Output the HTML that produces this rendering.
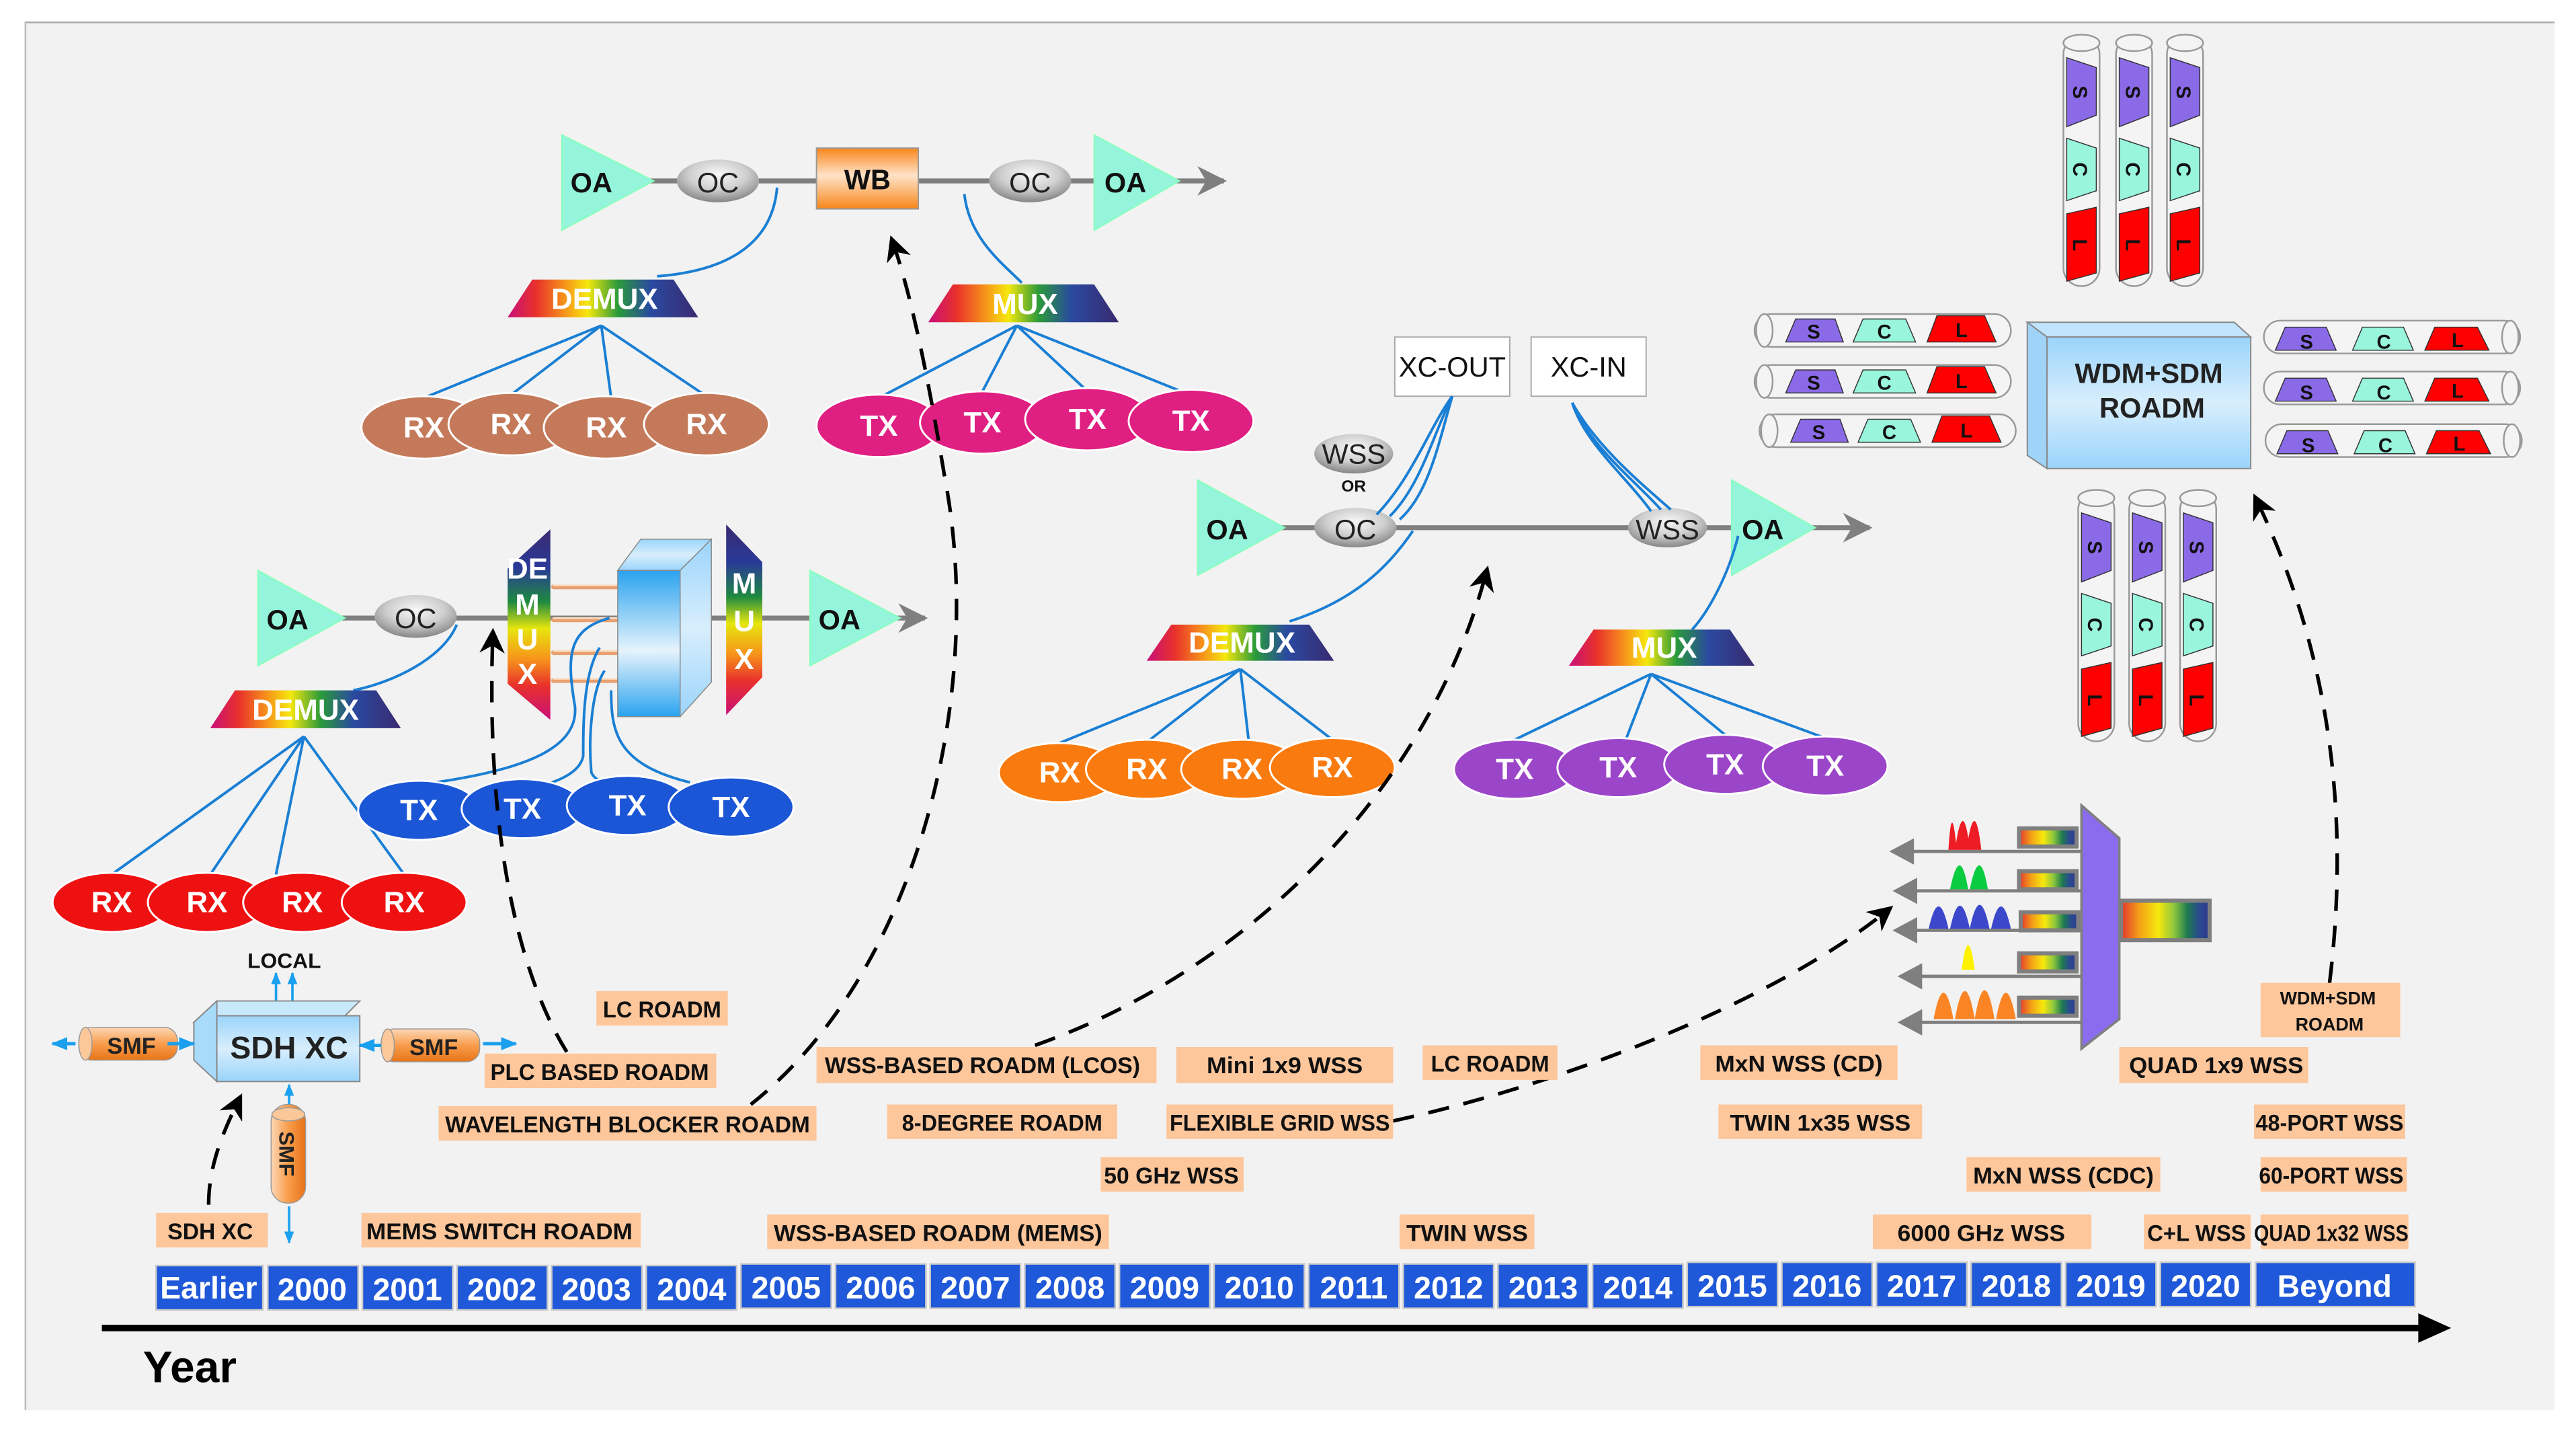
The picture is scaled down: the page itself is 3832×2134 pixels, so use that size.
<!DOCTYPE html>
<html><head><meta charset="utf-8"><style>
html,body{margin:0;padding:0;background:#fff;}
svg{display:block;}
text{font-family:"Liberation Sans Narrow","Liberation Sans",sans-serif;}
.lb{fill:#fdc69b;}
.lt{font-size:14px;font-weight:bold;fill:#111;text-anchor:middle;}
.yr{fill:#1f58d8;stroke:#c8c8c8;stroke-width:1;}
.yt{font-size:19px;font-weight:bold;fill:#fff;text-anchor:middle;}
.bl{stroke:#1a7fd4;stroke-width:1.6;fill:none;}
.dash{stroke:#000;stroke-width:2.2;fill:none;stroke-dasharray:13 9;}
.et{font-size:18px;font-weight:bold;fill:#fff;text-anchor:middle;}
.oa{fill:#95f5dc;stroke:#8fb;stroke-width:0.8;}
.oat{font-size:17px;font-weight:bold;fill:#111;text-anchor:middle;font-family:"Liberation Sans",sans-serif;}
.oct{font-size:17px;fill:#222;text-anchor:middle;}
.tube{fill:#f4f4f4;stroke:#999;stroke-width:1;}
.bt{font-size:12px;font-weight:bold;fill:#111;text-anchor:middle;font-family:"Liberation Sans",sans-serif;}
</style></head><body>
<svg width="3832" height="2134" viewBox="0 0 1568 873" xmlns="http://www.w3.org/2000/svg">
<defs>
<linearGradient id="rh" x1="0" x2="1" y1="0" y2="0">
<stop offset="0" stop-color="#c8107a"/><stop offset=".15" stop-color="#e8312b"/><stop offset=".3" stop-color="#f7941b"/><stop offset=".42" stop-color="#f5e80d"/><stop offset=".58" stop-color="#2a9a3a"/><stop offset=".75" stop-color="#2a4aa0"/><stop offset="1" stop-color="#3a2a70"/></linearGradient>
<linearGradient id="rv" x1="0" x2="0" y1="0" y2="1">
<stop offset="0" stop-color="#3a2a70"/><stop offset=".2" stop-color="#2a3a98"/><stop offset=".38" stop-color="#1e8a40"/><stop offset=".52" stop-color="#e6e60d"/><stop offset=".68" stop-color="#f7941b"/><stop offset=".82" stop-color="#e8312b"/><stop offset="1" stop-color="#c8107a"/></linearGradient>
<linearGradient id="rb" x1="0" x2="1" y1="0" y2="0">
<stop offset="0" stop-color="#e3342e"/><stop offset=".2" stop-color="#f39c18"/><stop offset=".42" stop-color="#f7e80d"/><stop offset=".6" stop-color="#8cc63e"/><stop offset=".75" stop-color="#1e7a50"/><stop offset=".88" stop-color="#2a4a90"/><stop offset="1" stop-color="#2e3a8c"/></linearGradient>
<radialGradient id="ge" cx=".5" cy=".35" r=".7"><stop offset="0" stop-color="#f8f8f8"/><stop offset=".5" stop-color="#cfcfcf"/><stop offset="1" stop-color="#7a7a7a"/></radialGradient>
<linearGradient id="wb" x1="0" x2="0" y1="0" y2="1"><stop offset="0" stop-color="#f7861a"/><stop offset=".45" stop-color="#ffe3c8"/><stop offset="1" stop-color="#f7861a"/></linearGradient>
<linearGradient id="cy" x1="0" x2="0" y1="0" y2="1"><stop offset="0" stop-color="#2aa3ef"/><stop offset=".55" stop-color="#e6f3fc"/><stop offset="1" stop-color="#2aa3ef"/></linearGradient>
<linearGradient id="cy2" x1="0" x2="0" y1="0" y2="1"><stop offset="0" stop-color="#9ad4fb"/><stop offset=".5" stop-color="#d8eefc"/><stop offset="1" stop-color="#9ad4fb"/></linearGradient>
<linearGradient id="sm" x1="0" x2="0" y1="0" y2="1"><stop offset="0" stop-color="#fcd7b5"/><stop offset=".5" stop-color="#f99d4c"/><stop offset="1" stop-color="#e77418"/></linearGradient>
<linearGradient id="smv" x1="0" x2="1" y1="0" y2="0"><stop offset="0" stop-color="#fcd7b5"/><stop offset=".5" stop-color="#f99d4c"/><stop offset="1" stop-color="#e77418"/></linearGradient>
<marker id="ah" viewBox="0 0 10 10" refX="8" refY="5" markerWidth="7" markerHeight="7" orient="auto-start-reverse"><path d="M0,0 L10,5 L0,10 L3,5 z" fill="#000"/></marker>
<marker id="ga" viewBox="0 0 10 10" refX="9" refY="5" markerWidth="6" markerHeight="6" orient="auto"><path d="M0,0 L10,5 L0,10 L3,5 z" fill="#7f7f7f"/></marker>
<marker id="ba" viewBox="0 0 10 10" refX="9" refY="5" markerWidth="5" markerHeight="5" orient="auto"><path d="M0,1 L10,5 L0,9 z" fill="#1aa0ef"/></marker>
</defs>

<rect x="0" y="0" width="1568" height="873" fill="#fff"/>
<rect x="15" y="13" width="1540" height="845" fill="#f2f2f2"/>
<line x1="15" y1="13.5" x2="1555" y2="13.5" stroke="#aaa" stroke-width="1"/>
<line x1="15.5" y1="13" x2="15.5" y2="858" stroke="#bbb" stroke-width="1"/>

<!-- ===== Diagram 1: WB ===== -->
<line x1="380" y1="110" x2="745" y2="110" stroke="#7f7f7f" stroke-width="3" marker-end="url(#ga)"/>
<polygon class="oa" points="342,82 398,110 342,140"/><text class="oat" x="360" y="117">OA</text>
<ellipse cx="437" cy="110" rx="25" ry="13" fill="url(#ge)"/><text class="oct" x="437" y="117">OC</text>
<rect x="497" y="90" width="62" height="37" fill="url(#wb)" stroke="#999" stroke-width=".8"/><text class="oat" x="528" y="115">WB</text>
<ellipse cx="627" cy="110" rx="25" ry="13" fill="url(#ge)"/><text class="oct" x="627" y="117">OC</text>
<polygon class="oa" points="666,82 718,110 666,140"/><text class="oat" x="685" y="117">OA</text>
<path class="bl" d="M473,114 C470,150 440,165 400,168"/>
<path class="bl" d="M587,118 C590,145 610,160 622,172"/>
<polygon points="324,170 410,170 425,193 309,193" fill="url(#rh)"/><text class="et" x="368" y="188" font-size="16">DEMUX</text>
<polygon points="580,173 666,173 681,196 565,196" fill="url(#rh)"/><text class="et" x="624" y="191" font-size="16">MUX</text>
<path class="bl" d="M366,198 L258,242 M366,198 L310,241 M366,198 L372,242 M366,198 L430,241"/>
<path class="bl" d="M619,198 L535,242 M619,198 L597,240 M619,198 L662,238 M619,198 L724,240"/>
<g stroke="#fff" stroke-width="1.2" fill="#c47a5a">
<ellipse cx="258" cy="260" rx="38" ry="19"/><ellipse cx="311" cy="258" rx="38" ry="19"/><ellipse cx="369" cy="260" rx="38" ry="19"/><ellipse cx="430" cy="258" rx="38" ry="19"/></g>
<text class="et" x="258" y="266">RX</text><text class="et" x="311" y="264">RX</text><text class="et" x="369" y="266">RX</text><text class="et" x="430" y="264">RX</text>
<g stroke="#fff" stroke-width="1.2" fill="#e01f82">
<ellipse cx="535" cy="259" rx="38" ry="19"/><ellipse cx="598" cy="257" rx="38" ry="19"/><ellipse cx="662" cy="255" rx="38" ry="19"/><ellipse cx="725" cy="256" rx="38" ry="19"/></g>
<text class="et" x="535" y="265">TX</text><text class="et" x="598" y="263">TX</text><text class="et" x="662" y="261">TX</text><text class="et" x="725" y="262">TX</text>

<!-- ===== Diagram 2: PLC ===== -->
<line x1="200" y1="376" x2="563" y2="376" stroke="#7f7f7f" stroke-width="3" marker-end="url(#ga)"/>
<polygon class="oa" points="157,347 210,376 157,405"/><text class="oat" x="175" y="383">OA</text>
<ellipse cx="253" cy="375" rx="25" ry="13" fill="url(#ge)"/><text class="oct" x="253" y="382">OC</text>
<polygon class="oa" points="493,347 548,376 493,405"/><text class="oat" x="511" y="383">OA</text>
<path class="bl" d="M278,380 C270,400 240,415 215,420"/>
<g stroke="#e8a070" stroke-width="3" stroke-linecap="round"><line x1="337" y1="357" x2="376" y2="357"/><line x1="337" y1="377" x2="376" y2="377"/><line x1="337" y1="397" x2="376" y2="397"/><line x1="337" y1="414" x2="376" y2="414"/></g>
<g stroke="#fbe0c8" stroke-width="1" stroke-linecap="round"><line x1="337" y1="356" x2="376" y2="356"/><line x1="337" y1="376" x2="376" y2="376"/><line x1="337" y1="396" x2="376" y2="396"/><line x1="337" y1="413" x2="376" y2="413"/></g>
<polygon points="309,346 335,322 335,438 309,416" fill="url(#rv)"/>
<text class="et" x="321" y="352" font-size="14">DE</text><text class="et" x="321" y="374" font-size="15">M</text><text class="et" x="321" y="395" font-size="15">U</text><text class="et" x="321" y="416" font-size="15">X</text>
<polygon points="376,347 390,328 433,328 414,347" fill="url(#cy2)" stroke="#888" stroke-width=".6"/>
<polygon points="414,347 433,328 433,415 414,436" fill="url(#cy2)" stroke="#888" stroke-width=".6"/>
<rect x="376" y="347" width="38" height="89" fill="url(#cy)" stroke="#888" stroke-width=".6"/>
<polygon points="442,319 464,342 464,412 442,435" fill="url(#rv)"/>
<text class="et" x="453" y="361" font-size="15">M</text><text class="et" x="453" y="384" font-size="15">U</text><text class="et" x="453" y="407" font-size="15">X</text>
<path class="bl" d="M371,376 C345,383 345,400 350,430 C352,455 320,468 265,476"/>
<path class="bl" d="M365,394 C355,410 355,440 355,460 C353,470 340,475 330,478"/>
<path class="bl" d="M368,408 C360,420 358,450 360,470 C362,475 370,478 378,475"/>
<path class="bl" d="M372,420 C372,445 375,465 420,476"/>
<polygon points="143,420 229,420 244,443 128,443" fill="url(#rh)"/><text class="et" x="186" y="438" font-size="16">DEMUX</text>
<path class="bl" d="M185,448 L68,532 M185,448 L128,532 M185,448 L168,532 M185,448 L246,532"/>
<g stroke="#fff" stroke-width="1.2" fill="#ee1111">
<ellipse cx="68" cy="549" rx="36" ry="18"/><ellipse cx="126" cy="549" rx="36" ry="18"/><ellipse cx="184" cy="549" rx="36" ry="18"/><ellipse cx="246" cy="549" rx="38" ry="18"/></g>
<text class="et" x="68" y="555">RX</text><text class="et" x="126" y="555">RX</text><text class="et" x="184" y="555">RX</text><text class="et" x="246" y="555">RX</text>
<g stroke="#fff" stroke-width="1.2" fill="#1a56d6">
<ellipse cx="255" cy="493" rx="37" ry="18"/><ellipse cx="318" cy="492" rx="37" ry="18"/><ellipse cx="382" cy="490" rx="37" ry="18"/><ellipse cx="445" cy="491" rx="38" ry="18"/></g>
<text class="et" x="255" y="499">TX</text><text class="et" x="318" y="498">TX</text><text class="et" x="382" y="496">TX</text><text class="et" x="445" y="497">TX</text>

<!-- ===== Diagram 3: WSS ROADM ===== -->
<line x1="775" y1="321" x2="1138" y2="321" stroke="#7f7f7f" stroke-width="3" marker-end="url(#ga)"/>
<polygon class="oa" points="729,292 782,321 729,350"/><text class="oat" x="747" y="328">OA</text>
<ellipse cx="824" cy="276" rx="24" ry="12" fill="url(#ge)"/><text class="oct" x="824" y="282" font-size="15">WSS</text>
<text x="824" y="299" font-size="10" font-weight="bold" text-anchor="middle" fill="#111" font-family="Liberation Sans,sans-serif">OR</text>
<ellipse cx="825" cy="321" rx="25" ry="12" fill="url(#ge)"/><text class="oct" x="825" y="328">OC</text>
<rect x="849" y="205" width="70" height="36" fill="#fff" stroke="#aaa" stroke-width=".8"/><text x="884" y="229" font-size="17" text-anchor="middle" fill="#111">XC-OUT</text>
<rect x="932" y="205" width="70" height="36" fill="#fff" stroke="#aaa" stroke-width=".8"/><text x="967" y="229" font-size="17" text-anchor="middle" fill="#111">XC-IN</text>
<ellipse cx="1015" cy="321" rx="24" ry="12" fill="url(#ge)"/><text class="oct" x="1015" y="328" font-size="16">WSS</text>
<polygon class="oa" points="1054,292 1105,321 1054,350"/><text class="oat" x="1073" y="328">OA</text>
<g class="bl"><path d="M884,241 C870,260 860,290 838,313"/><path d="M884,241 C872,265 865,295 846,314"/><path d="M884,241 C876,268 870,300 852,316"/>
<path d="M957,245 C965,270 990,290 1005,311"/><path d="M957,245 C968,272 995,292 1011,310"/><path d="M957,245 C972,272 1000,295 1017,310"/>
<path d="M860,323 C845,345 825,365 785,378"/><path d="M1058,326 C1052,350 1040,372 1030,383"/></g>
<polygon points="713,380 797,380 812,402 698,402" fill="url(#rh)"/><text class="et" x="756" y="397" font-size="16">DEMUX</text>
<polygon points="970,383 1053,383 1068,405 955,405" fill="url(#rh)"/><text class="et" x="1013" y="400" font-size="16">MUX</text>
<path class="bl" d="M755,407 L645,452 M755,407 L700,450 M755,407 L760,450 M755,407 L811,450"/>
<path class="bl" d="M1005,410 L922,450 M1005,410 L990,449 M1005,410 L1050,447 M1005,410 L1111,449"/>
<g stroke="#fff" stroke-width="1.2" fill="#f97b0f">
<ellipse cx="645" cy="470" rx="37" ry="18"/><ellipse cx="698" cy="468" rx="37" ry="18"/><ellipse cx="756" cy="468" rx="37" ry="18"/><ellipse cx="811" cy="467" rx="38" ry="18"/></g>
<text class="et" x="645" y="476">RX</text><text class="et" x="698" y="474">RX</text><text class="et" x="756" y="474">RX</text><text class="et" x="811" y="473">RX</text>
<g stroke="#fff" stroke-width="1.2" fill="#9b45c8">
<ellipse cx="922" cy="468" rx="37" ry="18"/><ellipse cx="985" cy="467" rx="37" ry="18"/><ellipse cx="1050" cy="465" rx="37" ry="18"/><ellipse cx="1111" cy="466" rx="38" ry="18"/></g>
<text class="et" x="922" y="474">TX</text><text class="et" x="985" y="473">TX</text><text class="et" x="1050" y="471">TX</text><text class="et" x="1111" y="472">TX</text>

<!-- ===== Diagram 4: WDM+SDM ROADM ===== -->
<g id="vt">
<rect class="tube" x="1256" y="22" width="22" height="152" rx="11"/>
<ellipse cx="1267" cy="26" rx="11" ry="5" fill="#f4f4f4" stroke="#999" stroke-width="1"/>
<polygon points="1258,35 1276,41 1276,70 1258,77" fill="#8b6ae8" stroke="#333" stroke-width=".6"/>
<polygon points="1258,84 1276,90 1276,116 1258,122" fill="#99f5dc" stroke="#333" stroke-width=".6"/>
<polygon points="1258,130 1276,126 1276,166 1258,171" fill="#f00" stroke="#333" stroke-width=".6"/>
<text class="bt" transform="translate(1262,56) rotate(90)">S</text>
<text class="bt" transform="translate(1262,103) rotate(90)">C</text>
<text class="bt" transform="translate(1262,149) rotate(90)">L</text>
</g>
<use href="#vt" x="32"/><use href="#vt" x="63"/>
<use href="#vt" x="9" y="277"/><use href="#vt" x="40" y="277"/><use href="#vt" x="71" y="277"/>
<g id="ht">
<rect class="tube" x="1068" y="191" width="156" height="20" rx="10"/>
<ellipse cx="1074" cy="201" rx="5" ry="10" fill="#f4f4f4" stroke="#999" stroke-width="1"/>
<polygon points="1087,208 1093,194 1117,194 1122,208" fill="#8b6ae8" stroke="#333" stroke-width=".6"/>
<polygon points="1128,208 1134,194 1160,194 1166,208" fill="#99f5dc" stroke="#333" stroke-width=".6"/>
<polygon points="1173,208 1179,192 1208,192 1215,208" fill="#f00" stroke="#333" stroke-width=".6"/>
<text class="bt" x="1104" y="206">S</text><text class="bt" x="1147" y="206">C</text><text class="bt" x="1194" y="205">L</text>
</g>
<use href="#ht" y="31"/><use href="#ht" x="3" y="61"/>
<g id="hr">
<rect class="tube" x="1378" y="195" width="156" height="20" rx="10"/>
<ellipse cx="1528" cy="205" rx="5" ry="10" fill="#f4f4f4" stroke="#999" stroke-width="1"/>
<polygon points="1385,213 1391,199 1416,199 1422,213" fill="#8b6ae8" stroke="#333" stroke-width=".6"/>
<polygon points="1432,213 1438,199 1463,199 1469,213" fill="#99f5dc" stroke="#333" stroke-width=".6"/>
<polygon points="1476,213 1482,199 1508,199 1515,213" fill="#f00" stroke="#333" stroke-width=".6"/>
<text class="bt" x="1404" y="212">S</text><text class="bt" x="1451" y="212">C</text><text class="bt" x="1496" y="211">L</text>
</g>
<use href="#hr" y="31"/><use href="#hr" x="1" y="63"/>
<polygon points="1234,196 1246,205 1370,205 1360,196" fill="#bfe4fb" stroke="#888" stroke-width=".8"/>
<polygon points="1234,196 1246,205 1246,285 1234,277" fill="#9fd4f8" stroke="#888" stroke-width=".8"/>
<rect x="1246" y="205" width="124" height="80" fill="url(#cy2)" stroke="#888" stroke-width=".8"/>
<text x="1308" y="233" font-size="17" font-weight="bold" text-anchor="middle" fill="#222" font-family="Liberation Sans,sans-serif">WDM+SDM</text>
<text x="1310" y="254" font-size="17" font-weight="bold" text-anchor="middle" fill="#222" font-family="Liberation Sans,sans-serif">ROADM</text>

<!-- ===== Diagram 5: spectrum WSS ===== -->
<g stroke="#7f7f7f" stroke-width="2" fill="#7f7f7f">
<line x1="1160" y1="518" x2="1267" y2="518"/><polygon points="1150,518 1165,510 1165,526" stroke="none"/>
<line x1="1162" y1="542" x2="1267" y2="542"/><polygon points="1152,542 1167,534 1167,550" stroke="none"/>
<line x1="1162" y1="566" x2="1267" y2="566"/><polygon points="1152,566 1167,558 1167,574" stroke="none"/>
<line x1="1165" y1="594" x2="1267" y2="594"/><polygon points="1155,594 1170,586 1170,602" stroke="none"/>
<line x1="1165" y1="622" x2="1267" y2="622"/><polygon points="1155,622 1170,614 1170,630" stroke="none"/>
</g>
<g fill="#ee1c25"><path d="M1186,517 Q1188,484 1191,517Z"/><path d="M1190,517 Q1195,482 1199,517Z"/><path d="M1197,517 Q1202,482 1206,517Z"/></g>
<g fill="#0acc40"><path d="M1187,541 Q1193,512 1198,541Z"/><path d="M1199,541 Q1205,512 1210,541Z"/></g>
<g fill="#3c48cc"><path d="M1174,565 Q1180,538 1186,565Z"/><path d="M1187,565 Q1193,537 1199,565Z"/><path d="M1199,565 Q1205,536 1211,565Z"/><path d="M1212,565 Q1218,538 1224,565Z"/></g>
<path d="M1194,590 Q1198,560 1202,590Z" fill="#fff200"/>
<g fill="#fb8424"><path d="M1177,620 Q1183,588 1189,620Z"/><path d="M1190,620 Q1196,586 1202,620Z"/><path d="M1202,620 Q1208,585 1214,620Z"/><path d="M1215,620 Q1221,588 1227,620Z"/></g>
<g stroke="#7f7f7f" stroke-width="2.5">
<rect x="1229" y="504" width="35" height="11" fill="url(#rb)"/>
<rect x="1229" y="530" width="35" height="11" fill="url(#rb)"/>
<rect x="1230" y="555" width="35" height="11" fill="url(#rb)"/>
<rect x="1229" y="580" width="35" height="11" fill="url(#rb)"/>
<rect x="1229" y="607" width="35" height="11" fill="url(#rb)"/>
<rect x="1291" y="548" width="54" height="24" fill="url(#rb)"/>
</g>
<polygon points="1267,490 1290,510 1290,620 1267,638" fill="#8b6cee" stroke="#7f7f7f" stroke-width="1.5"/>

<!-- ===== SDH XC ===== -->
<line x1="168" y1="611" x2="168" y2="592" stroke="#1aa0ef" stroke-width="1.5" marker-end="url(#ba)"/>
<line x1="178" y1="611" x2="178" y2="592" stroke="#1aa0ef" stroke-width="1.5" marker-end="url(#ba)"/>
<text x="173" y="589" font-size="13" font-weight="bold" text-anchor="middle" fill="#111">LOCAL</text>
<polygon points="118,622 132,609 219,609 206,622" fill="#c8e8fb" stroke="#888" stroke-width=".8"/>
<polygon points="118,622 132,609 132,645 132,658 118,645" fill="#a8dafa" stroke="#888" stroke-width=".8"/>
<rect x="132" y="618" width="87" height="40" fill="url(#cy2)" stroke="#888" stroke-width=".8"/>
<text x="176" y="644" font-size="19" font-weight="bold" text-anchor="middle" fill="#222">SDH XC</text>
<rect x="48" y="625" width="60" height="20" rx="8" fill="url(#sm)" stroke="#999" stroke-width=".6"/>
<ellipse cx="52" cy="635" rx="4" ry="10" fill="#fcc89a" stroke="#999" stroke-width=".6"/>
<text x="80" y="641" font-size="14" font-weight="bold" text-anchor="middle" fill="#222">SMF</text>
<rect x="232" y="626" width="60" height="20" rx="8" fill="url(#sm)" stroke="#999" stroke-width=".6"/>
<ellipse cx="236" cy="636" rx="4" ry="10" fill="#fcc89a" stroke="#999" stroke-width=".6"/>
<text x="264" y="642" font-size="14" font-weight="bold" text-anchor="middle" fill="#222">SMF</text>
<line x1="46" y1="635" x2="32" y2="635" stroke="#1aa0ef" stroke-width="2" marker-end="url(#ba)"/>
<line x1="102" y1="635" x2="118" y2="635" stroke="#1aa0ef" stroke-width="2" marker-end="url(#ba)"/>
<line x1="232" y1="636" x2="219" y2="636" stroke="#1aa0ef" stroke-width="2" marker-end="url(#ba)"/>
<line x1="294" y1="635" x2="314" y2="635" stroke="#1aa0ef" stroke-width="2" marker-end="url(#ba)"/>
<line x1="176" y1="675" x2="176" y2="660" stroke="#1aa0ef" stroke-width="1.5" marker-end="url(#ba)"/>
<rect x="165" y="672" width="21" height="60" rx="10" fill="url(#smv)" stroke="#999" stroke-width=".6"/>
<ellipse cx="175.5" cy="678" rx="10" ry="4" fill="#fcc89a" stroke="#999" stroke-width=".6"/>
<text transform="translate(170,702) rotate(90)" font-size="13" font-weight="bold" text-anchor="middle" fill="#222" font-family="Liberation Sans,sans-serif">SMF</text>
<line x1="176" y1="734" x2="176" y2="756" stroke="#1aa0ef" stroke-width="1.5" marker-end="url(#ba)"/>

<!-- ===== dashed arrows ===== -->
<path class="dash" d="M127,733 C127,710 135,690 146,668" marker-end="url(#ah)"/>
<path class="dash" d="M345,640 C320,600 295,520 300,385" marker-end="url(#ah)"/>
<path class="dash" d="M457,672 C560,590 600,420 575,290 C565,230 555,180 543,146" marker-end="url(#ah)"/>
<path class="dash" d="M630,636 C760,590 870,480 905,347" marker-end="url(#ah)"/>
<path class="dash" d="M848,682 C950,660 1080,610 1150,553" marker-end="url(#ah)"/>
<path class="dash" d="M1418,598 C1430,500 1420,400 1373,303" marker-end="url(#ah)"/>

<!-- ===== labels ===== -->
<g>
<rect class="lb" x="363" y="603" width="80" height="21"/><text class="lt" x="403" y="619" textLength="72" lengthAdjust="spacingAndGlyphs">LC ROADM</text>
<rect class="lb" x="295" y="641" width="141" height="21"/><text class="lt" x="365" y="657" textLength="133" lengthAdjust="spacingAndGlyphs">PLC BASED ROADM</text>
<rect class="lb" x="267" y="673" width="230" height="21"/><text class="lt" x="382" y="689" textLength="222" lengthAdjust="spacingAndGlyphs">WAVELENGTH BLOCKER ROADM</text>
<rect class="lb" x="95" y="738" width="68" height="21"/><text class="lt" x="128" y="754" textLength="52" lengthAdjust="spacingAndGlyphs">SDH XC</text>
<rect class="lb" x="220" y="738" width="170" height="21"/><text class="lt" x="304" y="754" textLength="162" lengthAdjust="spacingAndGlyphs">MEMS SWITCH ROADM</text>
<rect class="lb" x="497" y="637" width="207" height="22"/><text class="lt" x="598" y="653" textLength="192" lengthAdjust="spacingAndGlyphs">WSS-BASED ROADM (LCOS)</text>
<rect class="lb" x="540" y="672" width="140" height="21"/><text class="lt" x="610" y="688" textLength="122" lengthAdjust="spacingAndGlyphs">8-DEGREE ROADM</text>
<rect class="lb" x="467" y="739" width="208" height="21"/><text class="lt" x="571" y="755" textLength="200" lengthAdjust="spacingAndGlyphs">WSS-BASED ROADM (MEMS)</text>
<rect class="lb" x="716" y="637" width="132" height="22"/><text class="lt" x="782" y="653" textLength="95" lengthAdjust="spacingAndGlyphs">Mini 1x9 WSS</text>
<rect class="lb" x="710" y="672" width="138" height="21"/><text class="lt" x="779" y="688" textLength="134" lengthAdjust="spacingAndGlyphs">FLEXIBLE GRID WSS</text>
<rect class="lb" x="670" y="704" width="87" height="21"/><text class="lt" x="713" y="720" textLength="82" lengthAdjust="spacingAndGlyphs">50 GHz WSS</text>
<rect class="lb" x="866" y="636" width="82" height="21"/><text class="lt" x="907" y="652" textLength="72" lengthAdjust="spacingAndGlyphs">LC ROADM</text>
<rect class="lb" x="852" y="739" width="82" height="21"/><text class="lt" x="893" y="755" textLength="74" lengthAdjust="spacingAndGlyphs">TWIN WSS</text>
<rect class="lb" x="1035" y="636" width="120" height="21"/><text class="lt" x="1095" y="652" textLength="102" lengthAdjust="spacingAndGlyphs">MxN WSS (CD)</text>
<rect class="lb" x="1046" y="672" width="124" height="21"/><text class="lt" x="1108" y="688" textLength="110" lengthAdjust="spacingAndGlyphs">TWIN 1x35 WSS</text>
<rect class="lb" x="1197" y="704" width="118" height="21"/><text class="lt" x="1256" y="720" textLength="110" lengthAdjust="spacingAndGlyphs">MxN WSS (CDC)</text>
<rect class="lb" x="1140" y="739" width="133" height="21"/><text class="lt" x="1206" y="755" textLength="102" lengthAdjust="spacingAndGlyphs">6000 GHz WSS</text>
<rect class="lb" x="1305" y="739" width="65" height="21"/><text class="lt" x="1337" y="755" textLength="60" lengthAdjust="spacingAndGlyphs">C+L WSS</text>
<rect class="lb" x="1290" y="637" width="115" height="22"/><text class="lt" x="1349" y="653" textLength="106" lengthAdjust="spacingAndGlyphs">QUAD 1x9 WSS</text>
<rect class="lb" x="1376" y="598" width="85" height="33"/>
<text x="1417" y="611" font-size="11" font-weight="bold" text-anchor="middle" fill="#111" font-family="Liberation Sans,sans-serif">WDM+SDM</text>
<text x="1418" y="627" font-size="11" font-weight="bold" text-anchor="middle" fill="#111" font-family="Liberation Sans,sans-serif">ROADM</text>
<rect class="lb" x="1372" y="672" width="92" height="21"/><text class="lt" x="1418" y="688" font-size="13" textLength="90" lengthAdjust="spacingAndGlyphs" font-family="Liberation Sans,sans-serif">48-PORT WSS</text>
<rect class="lb" x="1376" y="704" width="89" height="21"/><text class="lt" x="1419" y="720" font-size="13" textLength="88" lengthAdjust="spacingAndGlyphs" font-family="Liberation Sans,sans-serif">60-PORT WSS</text>
<rect class="lb" x="1376" y="739" width="90" height="21"/><text class="lt" x="1419" y="755" font-size="11" textLength="94" lengthAdjust="spacingAndGlyphs" font-family="Liberation Sans,sans-serif">QUAD 1x32 WSS</text>
</g>

<!-- ===== timeline ===== -->
<g>
<rect class="yr" x="95" y="770" width="65" height="27"/><text class="yt" x="127" y="790">Earlier</text>
<rect class="yr" x="163" y="770" width="55" height="27"/><text class="yt" x="190" y="791">2000</text>
<rect class="yr" x="220.6" y="770" width="55" height="27"/><text class="yt" x="248" y="791">2001</text>
<rect class="yr" x="278.2" y="770" width="55" height="27"/><text class="yt" x="305.5" y="791">2002</text>
<rect class="yr" x="335.8" y="770" width="55" height="27"/><text class="yt" x="363" y="791">2003</text>
<rect class="yr" x="393.4" y="770" width="55" height="27"/><text class="yt" x="421" y="791">2004</text>
<rect class="yr" x="451" y="769" width="55" height="27"/><text class="yt" x="478.5" y="790">2005</text>
<rect class="yr" x="508.6" y="769" width="55" height="27"/><text class="yt" x="536" y="790">2006</text>
<rect class="yr" x="566.2" y="769" width="55" height="27"/><text class="yt" x="593.7" y="790">2007</text>
<rect class="yr" x="623.8" y="769" width="55" height="27"/><text class="yt" x="651.3" y="790">2008</text>
<rect class="yr" x="681.4" y="769" width="55" height="27"/><text class="yt" x="708.9" y="790">2009</text>
<rect class="yr" x="739" y="769" width="55" height="27"/><text class="yt" x="766.5" y="790">2010</text>
<rect class="yr" x="796.6" y="769" width="55" height="27"/><text class="yt" x="824.1" y="790">2011</text>
<rect class="yr" x="854.2" y="769" width="55" height="27"/><text class="yt" x="881.7" y="790">2012</text>
<rect class="yr" x="911.8" y="769" width="55" height="27"/><text class="yt" x="939.3" y="790">2013</text>
<rect class="yr" x="969.4" y="769" width="55" height="27"/><text class="yt" x="996.9" y="790">2014</text>
<rect class="yr" x="1027" y="768" width="55" height="27"/><text class="yt" x="1054.5" y="789">2015</text>
<rect class="yr" x="1084.6" y="768" width="55" height="27"/><text class="yt" x="1112.1" y="789">2016</text>
<rect class="yr" x="1142.2" y="768" width="55" height="27"/><text class="yt" x="1169.7" y="789">2017</text>
<rect class="yr" x="1199.8" y="768" width="55" height="27"/><text class="yt" x="1227.3" y="789">2018</text>
<rect class="yr" x="1257.4" y="768" width="55" height="27"/><text class="yt" x="1284.9" y="789">2019</text>
<rect class="yr" x="1315" y="768" width="55" height="27"/><text class="yt" x="1342.5" y="789">2020</text>
<rect class="yr" x="1373" y="768" width="97" height="27"/><text class="yt" x="1421" y="789">Beyond</text>
</g>
<line x1="62" y1="808" x2="1475" y2="808" stroke="#000" stroke-width="4"/>
<polygon points="1472,799 1492,808 1472,817" fill="#000"/>
<text x="87" y="841" font-size="27" font-weight="bold" fill="#000">Year</text>
</svg>
</body></html>
